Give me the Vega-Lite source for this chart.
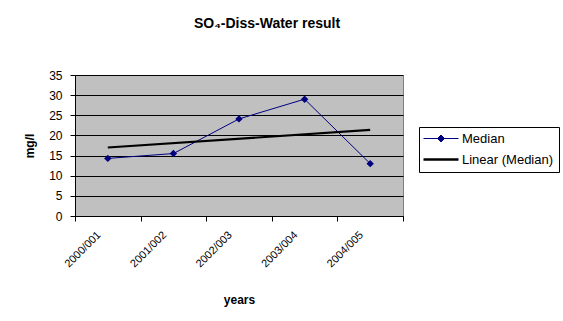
{
  "$schema": "https://vega.github.io/schema/vega-lite/v6.json",
  "autosize": {"type": "none"},
  "width": 328,
  "height": 141,
  "padding": {"left": 75, "top": 75, "right": 160, "bottom": 105},
  "background": "white",
  "title": {
    "text": "SO₄-Diss-Water result",
    "anchor": "middle",
    "dx": 28,
    "offset": 38,
    "font": "Liberation Sans",
    "fontSize": 14,
    "fontWeight": "bold",
    "color": "black"
  },
  "data": {
    "values": [
      {"year": "2000/001", "idx": 1, "median": 14.3},
      {"year": "2001/002", "idx": 2, "median": 15.5},
      {"year": "2002/003", "idx": 3, "median": 24.1},
      {"year": "2003/004", "idx": 4, "median": 29.0},
      {"year": "2004/005", "idx": 5, "median": 13.0}
    ]
  },
  "encoding": {
    "y": {
      "field": "median",
      "type": "quantitative",
      "scale": {"domain": [0, 35], "nice": false},
      "axis": {
        "title": "mg/l",
        "titleFont": "Liberation Sans",
        "titleFontSize": 12,
        "titleFontWeight": "bold",
        "titleColor": "black",
        "titlePadding": 12,
        "values": [0, 5, 10, 15, 20, 25, 30, 35],
        "labelOverlap": false,
        "labelFont": "Liberation Sans",
        "labelFontSize": 12,
        "labelColor": "black",
        "labelPadding": 8,
        "tickSize": 5,
        "tickColor": "black",
        "domainColor": "black",
        "grid": true,
        "gridColor": "black",
        "gridOpacity": 1,
        "gridWidth": 1
      }
    }
  },
  "layer": [
    {
      "mark": {
        "type": "line",
        "strokeWidth": 1,
        "point": {"shape": "diamond", "size": 55, "filled": true, "opacity": 1}
      },
      "encoding": {
        "x": {
          "field": "year",
          "type": "ordinal",
          "sort": null,
          "scale": {"type": "band", "paddingInner": 0, "paddingOuter": 0},
          "axis": {
            "title": "years",
            "titleFont": "Liberation Sans",
            "titleFontSize": 12,
            "titleFontWeight": "bold",
            "titleColor": "black",
            "titlePadding": 26,
            "labelAngle": -45,
            "labelAlign": "right",
            "labelBaseline": "middle",
            "labelFont": "Liberation Sans",
            "labelFontSize": 11,
            "labelColor": "black",
            "labelPadding": 12,
            "labelOffset": -9,
            "tickBand": "extent",
            "tickSize": 5,
            "tickColor": "black",
            "domainColor": "black",
            "grid": false
          }
        },
        "color": {
          "datum": "Median",
          "scale": {"domain": ["Median", "Linear (Median)"], "range": ["#000080", "#000000"]},
          "legend": {
            "title": null,
            "orient": "none",
            "legendX": 344,
            "legendY": 52,
            "strokeColor": "black",
            "fillColor": "white",
            "padding": 5,
            "labelFont": "Liberation Sans",
            "labelFontSize": 13,
            "labelColor": "black",
            "labelOffset": 14.5,
            "symbolOffset": 10.5,
            "symbolSize": 1225,
            "rowPadding": 7,
            "encode": {
              "symbols": {
                "update": {
                  "shape": {"signal": "datum.value === 'Median' ? 'M-1,0H1M0,-0.2L0.2,0L0,0.2L-0.2,0Z' : 'M-1,0H1'"},
                  "fill": {"signal": "datum.value === 'Median' ? '#000080' : 'transparent'"},
                  "strokeWidth": {"signal": "datum.value === 'Median' ? 1 : 2.5"},
                  "opacity": {"value": 1}
                }
              }
            }
          }
        }
      }
    },
    {
      "transform": [{"regression": "median", "on": "idx"}],
      "mark": {"type": "line", "strokeWidth": 2.2},
      "encoding": {
        "x": {
          "field": "idx",
          "type": "quantitative",
          "scale": {"domain": [0.5, 5.5], "nice": false, "zero": false},
          "axis": null
        },
        "color": {"datum": "Linear (Median)"}
      }
    }
  ],
  "resolve": {"scale": {"x": "independent"}},
  "config": {
    "view": {"fill": "#C0C0C0", "stroke": "#808080", "strokeWidth": 1},
    "font": "Liberation Sans"
  }
}
